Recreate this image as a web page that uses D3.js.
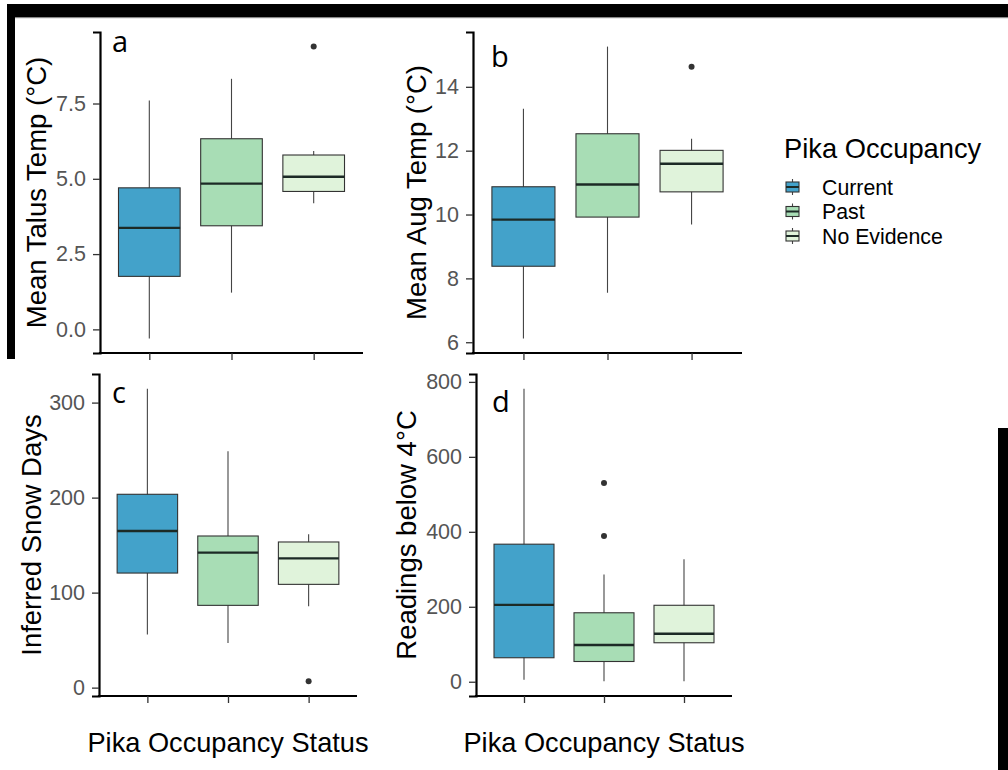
<!DOCTYPE html>
<html>
<head>
<meta charset="utf-8">
<script src="https://cdn.jsdelivr.net/npm/d3@7"></script>
<style>
  body { margin: 0; background: #fff; }
  svg { display: block; }
  text { font-family: "Liberation Sans", Arial, sans-serif; }
</style>
</head>
<body>
<svg id="chart" width="1008" height="770"></svg>
<script>
// Occupancy groups and their fills
const categories = ["Current", "Past", "No Evidence"];
const fills = ["#43a2ca", "#a8ddb5", "#e0f3db"];

// Box summaries per group: [lower whisker, Q1, median, Q3, upper whisker]
const talusBoxes = [
  [-0.30, 1.76, 3.37, 4.70, 7.60],
  [1.22, 3.44, 4.84, 6.33, 8.32],
  [4.19, 4.58, 5.07, 5.79, 5.92]
];
const talusOutliers = [[], [], [9.39]];
const talusTicks = [0, 2.5, 5, 7.5];

const augBoxes = [
  [6.12, 8.38, 9.84, 10.87, 13.31],
  [7.55, 9.92, 10.94, 12.53, 15.26],
  [9.69, 10.71, 11.59, 12.01, 12.37]
];
const augOutliers = [[], [], [14.63]];
const augTicks = [6, 8, 10, 12, 14];

const snowBoxes = [
  [56, 120.6, 164.8, 203.5, 314.7],
  [47, 86.6, 142.1, 159.6, 248.7],
  [85.6, 108.7, 136.1, 153.3, 161.4]
];
const snowOutliers = [[], [], [6.6]];
const snowTicks = [0, 100, 200, 300];

const coldBoxes = [
  [5, 64, 205, 367, 782],
  [1, 54, 98, 184, 286],
  [1, 104, 128, 204, 327]
];
const coldOutliers = [[], [530, 389], []];
const coldTicks = [0, 200, 400, 600, 800];

const svg = d3.select("#chart");
svg.append("rect").attr("width", 1008).attr("height", 770).attr("fill", "#fff");

// Page frame fragments
svg.append("rect").attr("x", 7).attr("y", 4).attr("width", 1001).attr("height", 13).attr("fill", "#000");
svg.append("rect").attr("x", 7).attr("y", 17).attr("width", 1001).attr("height", 1.2).attr("fill", "#888");
svg.append("rect").attr("x", 7).attr("y", 4).attr("width", 8).attr("height", 355).attr("fill", "#000");
svg.append("rect").attr("x", 998).attr("y", 428).attr("width", 10).attr("height", 342).attr("fill", "#000");

const panels = [
  { letter: "a", title: "Mean Talus Temp (°C)", boxes: talusBoxes, outliers: talusOutliers, ticks: talusTicks, fmt: ".1f",
    x0: 100, x1: 363, y0: 32, y1: 353, titleX: 46, letterX: 112, letterY: 52, xTitle: false },
  { letter: "b", title: "Mean Aug Temp (°C)", boxes: augBoxes, outliers: augOutliers, ticks: augTicks, fmt: "d",
    x0: 473, x1: 742, y0: 32, y1: 353, titleX: 426, letterX: 491, letterY: 67, xTitle: false },
  { letter: "c", title: "Inferred Snow Days", boxes: snowBoxes, outliers: snowOutliers, ticks: snowTicks, fmt: "d",
    x0: 99, x1: 357, y0: 374, y1: 696, titleX: 41, letterX: 112, letterY: 403, xTitle: true },
  { letter: "d", title: "Readings below 4°C", boxes: coldBoxes, outliers: coldOutliers, ticks: coldTicks, fmt: "d",
    x0: 476, x1: 732, y0: 374, y1: 696, titleX: 416, letterX: 492, letterY: 412, xTitle: true }
];

panels.forEach(p => {
  const g = svg.append("g");
  const x = d3.scalePoint().domain(categories).range([p.x0, p.x1]).padding(0.6);
  const allVals = p.boxes.flat().concat(p.outliers.flat());
  const lo = d3.min(allVals), hi = d3.max(allVals);
  const pad = (hi - lo) * 0.05;
  const y = d3.scaleLinear().domain([lo - pad, hi + pad]).range([p.y1, p.y0]);
  const bw = x.step() * 0.75;

  const groups = g.selectAll("g.box").data(categories).join("g").attr("class", "box");
  groups.append("line")
    .attr("x1", c => x(c)).attr("x2", c => x(c))
    .attr("y1", (c, i) => y(p.boxes[i][0])).attr("y2", (c, i) => y(p.boxes[i][4]))
    .attr("stroke", "#444").attr("stroke-width", 1.1);
  groups.append("rect")
    .attr("x", c => x(c) - bw / 2).attr("width", bw)
    .attr("y", (c, i) => y(p.boxes[i][3]))
    .attr("height", (c, i) => y(p.boxes[i][1]) - y(p.boxes[i][3]))
    .attr("fill", (c, i) => fills[i]).attr("stroke", "#333").attr("stroke-width", 1.1);
  groups.append("line")
    .attr("x1", c => x(c) - bw / 2).attr("x2", c => x(c) + bw / 2)
    .attr("y1", (c, i) => y(p.boxes[i][2])).attr("y2", (c, i) => y(p.boxes[i][2]))
    .attr("stroke", "#1c2a26").attr("stroke-width", 2.4);
  groups.each(function (c, i) {
    d3.select(this).selectAll("circle").data(p.outliers[i]).join("circle")
      .attr("cx", x(c)).attr("cy", v => y(v)).attr("r", 3).attr("fill", "#333");
  });

  // Axes
  const yAxis = g.append("g").attr("transform", `translate(${p.x0},0)`)
    .call(d3.axisLeft(y).tickValues(p.ticks).tickFormat(d3.format(p.fmt)).tickSizeOuter(0).tickSize(7).tickPadding(7));
  const xAxis = g.append("g").attr("transform", `translate(0,${p.y1})`)
    .call(d3.axisBottom(x).tickFormat("").tickSizeOuter(0).tickSize(7));
  [yAxis, xAxis].forEach(a => {
    a.select(".domain").attr("stroke", "#000").attr("stroke-width", 2.2);
    a.selectAll(".tick line").attr("stroke", "#333").attr("stroke-width", 1.3);
    a.selectAll(".tick text").attr("fill", "#555").style("font-size", "21.5px")
      .style("font-family", "'Liberation Sans', Arial, sans-serif");
  });
  // extend the x-axis line to meet the y-axis line at the corner
  xAxis.select(".domain").attr("d", `M${p.x0 - 1.1},0H${p.x1}`);

  g.append("text")
    .attr("transform", `translate(${p.titleX},${(p.y0 + p.y1) / 2}) rotate(-90)`)
    .attr("text-anchor", "middle").attr("fill", "#000").style("font-size", "27.5px")
    .text(p.title);

  g.append("text").attr("x", p.letterX).attr("y", p.letterY)
    .style("font-family", "'Open Sans', sans-serif").style("font-size", "29px").attr("fill", "#000")
    .text(p.letter);

  if (p.xTitle) {
    g.append("text").attr("x", (p.x0 + p.x1) / 2).attr("y", 752)
      .attr("text-anchor", "middle").attr("fill", "#000").style("font-size", "27.2px")
      .text("Pika Occupancy Status");
  }
});

// Legend
const legend = svg.append("g");
legend.append("text").attr("x", 784).attr("y", 158).attr("fill", "#000").style("font-size", "27.3px")
  .text("Pika Occupancy");
const keyY = d3.scalePoint().domain(categories).range([187, 236]);
const keys = legend.selectAll("g.key").data(categories).join("g").attr("class", "key");
keys.append("line").attr("x1", 792.5).attr("x2", 792.5)
  .attr("y1", c => keyY(c) - 8).attr("y2", c => keyY(c) + 8)
  .attr("stroke", "#444").attr("stroke-width", 1.1);
keys.append("rect").attr("x", 786).attr("width", 13)
  .attr("y", c => keyY(c) - 5).attr("height", 10)
  .attr("fill", (c, i) => fills[i]).attr("stroke", "#333").attr("stroke-width", 1.1);
keys.append("line").attr("x1", 786).attr("x2", 799)
  .attr("y1", c => keyY(c)).attr("y2", c => keyY(c))
  .attr("stroke", "#1c2a26").attr("stroke-width", 2);
keys.append("text").attr("x", 822).attr("y", c => keyY(c) + 7.5)
  .attr("fill", "#000").style("font-size", "21.3px").text(c => c);
</script>
</body>
</html>
